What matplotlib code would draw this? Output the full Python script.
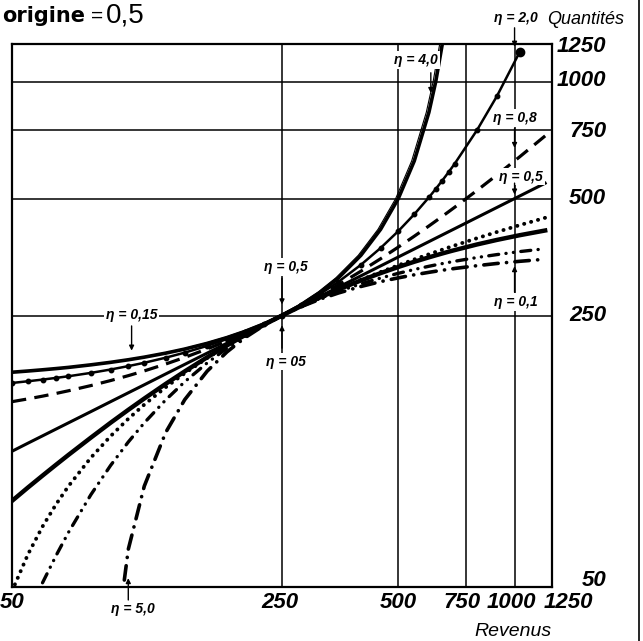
import matplotlib
matplotlib.use("Agg")
import matplotlib.pyplot as plt
import numpy as np
from matplotlib.lines import Line2D
from matplotlib.ticker import FixedLocator, NullLocator, NullFormatter
from matplotlib.transforms import ScaledTranslation

plt.rcParams["font.family"] = ["Liberation Sans", "DejaVu Sans"]

NAN = np.nan

REVENUS = [50, 55, 60, 65, 70, 80, 90, 100, 110, 125, 140, 160, 180, 200, 225,
           250, 280, 315, 350, 400, 450, 500, 550, 600, 625, 650, 675, 700,
           800, 900, 1030, 1200]

# Quantités per curve -- every curve goes through 250/250 with elasticity 0.5
Q_HYPERBOLIQUE = [178.6, 179.9, 181.2, 182.5, 183.8, 186.6, 189.4, 192.3, 195.3,
                  200.0, 204.9, 211.9, 219.3, 227.3, 238.1, 250.0, 266.0, 287.4,
                  312.5, 357.1, 416.7, 500.0, 625.0, 833.3, 1000.0, 1250.0,
                  1666.7, 2500.0, NAN, NAN, NAN, NAN]
Q_EXPONENTIELLE = [167.6, 169.3, 171.0, 172.7, 174.4, 177.9, 181.5, 185.2, 188.9,
                   194.7, 200.6, 208.8, 217.4, 226.2, 237.8, 250.0, 265.5, 284.7,
                   305.3, 337.5, 373.0, 412.2, 455.5, 503.4, 529.2, 556.4, 584.9,
                   614.9, 751.0, 917.3, 1189.7, NAN]
Q_LINEAIRE = [150.0, 152.5, 155.0, 157.5, 160.0, 165.0, 170.0, 175.0, 180.0,
              187.5, 195.0, 205.0, 215.0, 225.0, 237.5, 250.0, 265.0, 282.5,
              300.0, 325.0, 350.0, 375.0, 400.0, 425.0, 437.5, 450.0, 462.5,
              475.0, 525.0, 575.0, 640.0, 725.0]
Q_CONSTANTE = [111.8, 117.3, 122.5, 127.5, 132.3, 141.4, 150.0, 158.1, 165.8,
               176.8, 187.1, 200.0, 212.1, 223.6, 237.2, 250.0, 264.6, 280.6,
               295.8, 316.2, 335.4, 353.6, 370.8, 387.3, 395.3, 403.1, 410.8,
               418.3, 447.2, 474.3, 507.4, 547.7]
Q_SEMILOG = [48.8, 60.7, 71.6, 81.6, 90.9, 107.6, 122.3, 135.5, 147.4,
             163.4, 177.5, 194.2, 208.9, 222.1, 236.8, 250.0, 264.2, 278.9,
             292.1, 308.8, 323.5, 336.6, 348.6, 359.4, 364.5, 369.4, 374.2,
             378.7, 395.4, 410.1, 427.0, 446.1]
Q_TORNQVIST = [83.3, 90.2, 96.8, 103.2, 109.4, 121.2, 132.4, 142.9, 152.8,
               166.7, 179.5, 195.1, 209.3, 222.2, 236.8, 250.0, 264.2, 278.8,
               291.7, 307.7, 321.4, 333.3, 343.8, 352.9, 357.1, 361.1, 364.9,
               368.4, 381.0, 391.3, 402.3, 413.8]
Q_LOGINVERSE = [33.8, 42.5, 51.3, 60.2, 69.1, 86.4, 102.8, 118.1, 132.3,
                151.6, 168.8, 188.7, 205.8, 220.6, 236.5, 250.0, 263.8, 277.2,
                288.4, 301.6, 312.2, 321.0, 328.4, 334.7, 337.5, 340.1, 342.5,
                344.8, 352.6, 358.7, 365.1, 371.4]
Q_HYPERBOLE = [NAN, NAN, NAN, NAN, NAN, NAN, 27.8, 62.5, 90.9,
               125.0, 151.8, 179.7, 201.4, 218.8, 236.1, 250.0, 263.4, 275.8,
               285.7, 296.9, 305.6, 312.5, 318.2, 322.9, 325.0, 326.9, 328.7,
               330.4, 335.9, 340.3, 344.7, 349.0]

GRID = [250, 500, 750, 1000]
TICKS = [50, 250, 500, 750, 1000, 1250]
TICK_LABELS = ["50", "250", "500", "750", "1000", "1250"]

# (label, text position, arrow tail, arrow tip) in data units
ETA_NOTES = [
    ("η = 0,15", (102, 250), (102, 235), (102, 203)),
    ("η = 0,5", (256, 333), (250, 312), (250, 267)),
    ("η = 05", (256, 190), (250, 206), (250, 236)),
    ("η = 4,0", (556, 1136), (607, 1054), (607, 935)),
    ("η = 2,0", (1010, 1460), (1000, 1376), (1000, 1230)),
    ("η = 0,8", (1000, 806), (1000, 758), (1000, 675)),
    ("η = 0,5", (1040, 569), (1000, 548), (1000, 512)),
    ("η = 0,1", (1010, 271), (1000, 287), (1000, 335)),
    ("η = 5,0", (103, 44), (100, 46.3), (100, 52.7)),
]

W, H = 643, 641
fig = plt.figure(figsize=(W / 100, H / 100), dpi=100)
ax = fig.add_axes([12 / W, 54 / H, 540 / W, 543 / H])
ax.set_xscale("log")
ax.set_yscale("log")
ax.set_xlim(50, 1250)
ax.set_ylim(50, 1250)

for v in GRID:
    ax.axhline(v, color="black", lw=1.1, zorder=1)
    ax.axvline(v, color="black", lw=1.1, zorder=1)
for s in ax.spines.values():
    s.set_linewidth(1.6)

# the curves
ax.plot(REVENUS, Q_HYPERBOLIQUE, color="black", lw=2.6, zorder=3)
shift = ax.transData + ScaledTranslation(-2.6 / 100, 0, fig.dpi_scale_trans)
ax.plot(REVENUS, Q_HYPERBOLIQUE, color="black", lw=0.8, zorder=3, transform=shift)
ax.plot(REVENUS, Q_EXPONENTIELLE, color="black", lw=1.8, marker="o", ms=3.2, zorder=3)
last = max(i for i, q in enumerate(Q_EXPONENTIELLE) if not np.isnan(q))
ax.plot(REVENUS[last], Q_EXPONENTIELLE[last], "o", color="black", ms=6, zorder=3)
ax.plot(REVENUS, Q_LINEAIRE, color="black", lw=2.3, ls=(0, (4.5, 2.6)), zorder=3)
ax.plot(REVENUS, Q_CONSTANTE, color="black", lw=2.2, zorder=3)
ax.plot(REVENUS, Q_SEMILOG, color="black", lw=2.8, ls=(0, (0.05, 1.8)),
        dash_capstyle="round", zorder=3)
ax.plot(REVENUS, Q_TORNQVIST, color="black", lw=3.2, zorder=3)
ax.plot(REVENUS, Q_LOGINVERSE, color="black", lw=2.4,
        ls=(0, (3.0, 2.2, 0.05, 2.2, 0.05, 2.2)), dash_capstyle="round", zorder=3)
ax.plot(REVENUS, Q_HYPERBOLE, color="black", lw=2.6,
        ls=(0, (4.0, 2.3, 0.05, 2.3)), dash_capstyle="round", zorder=3)

# axes labels drawn as texts (x below, y on the right)
ax.xaxis.set_major_locator(FixedLocator(TICKS))
ax.yaxis.set_major_locator(FixedLocator(TICKS))
for axis in (ax.xaxis, ax.yaxis):
    axis.set_minor_locator(NullLocator())
    axis.set_major_formatter(NullFormatter())
    axis.set_minor_formatter(NullFormatter())
ax.tick_params(length=0)

x_shift = [0, -2, 0, -4, -3, 16]
for v, lab, dx in zip(TICKS, TICK_LABELS, x_shift):
    ax.annotate(lab, xy=(v, 0), xycoords=("data", "axes fraction"),
                xytext=(dx * 0.72, -11), textcoords="offset points",
                ha="center", va="center", annotation_clip=False,
                fontsize=16, fontweight="bold", fontstyle="italic")
y_shift = [7, 0, 0, -1, 1, -3]
for v, lab, dy in zip(TICKS, TICK_LABELS, y_shift):
    ax.annotate(lab, xy=(1, v), xycoords=("axes fraction", "data"),
                xytext=(39, dy * 0.72), textcoords="offset points",
                ha="right", va="center", annotation_clip=False,
                fontsize=16, fontweight="bold", fontstyle="italic")

# elasticity notes
for lab, txy, tail, tip in ETA_NOTES:
    ax.text(txy[0], txy[1], lab, ha="center", va="center", fontsize=10,
            fontweight="bold", fontstyle="italic", zorder=6,
            bbox=dict(fc="white", ec="none", pad=1.2))
    ax.annotate("", xy=tip, xytext=tail, annotation_clip=False, zorder=6,
                arrowprops=dict(arrowstyle="-|>", color="black", lw=1.0,
                                mutation_scale=7, shrinkA=0, shrinkB=0))

# title and axis names
fig.text(2 / W, 1 - 22 / H, "origine", ha="left", va="baseline",
         fontsize=15, fontweight="bold", family="DejaVu Sans")
fig.text(91 / W, 1 - 22 / H, "=", ha="left", va="baseline", fontsize=15)
fig.text(106 / W, 1 - 22 / H, "0,5", ha="left", va="baseline", fontsize=20)
fig.text(547 / W, 1 - 20 / H, "Quantités", ha="left", va="center",
         fontsize=13, fontstyle="italic")
fig.text(552 / W, 1 - 632 / H, "Revenus", ha="right", va="center",
         fontsize=14, fontstyle="italic")

# page border visible on the right of the scan
fig.add_artist(Line2D([639 / W, 639 / W], [0, 1], transform=fig.transFigure,
                      color="black", lw=1.2))

fig.savefig("out.png", dpi=100)
